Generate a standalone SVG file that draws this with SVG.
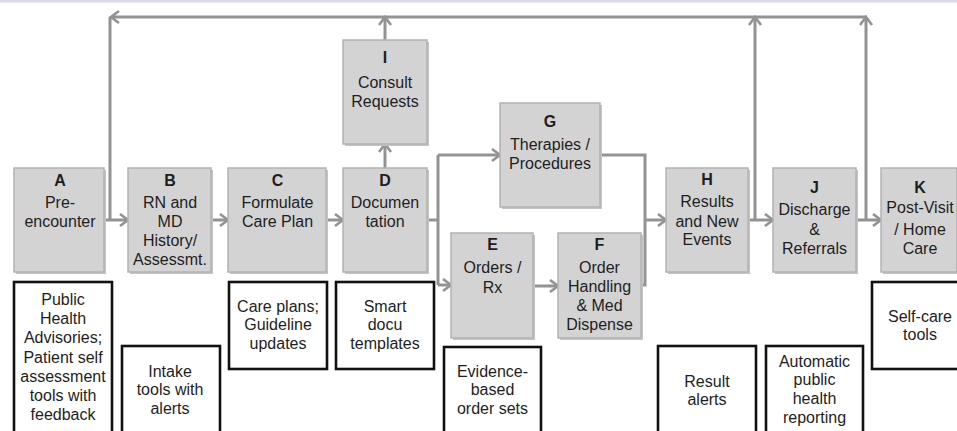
<svg xmlns="http://www.w3.org/2000/svg" width="957" height="431" viewBox="0 0 957 431">
<defs>
<marker id="ah" markerUnits="userSpaceOnUse" markerWidth="14" markerHeight="16" refX="10" refY="7" orient="auto">
<path d="M2,1 L10,7 L2,13" fill="none" stroke="#939393" stroke-width="2.6"/>
</marker>
</defs>
<style>
.bg{fill:#ffffff}
.band{fill:#dad8ec}
.node{fill:#d3d3d3;stroke:#b3b3b3;stroke-width:1.5}
.shadow{fill:#c4c4c4}
.ann{fill:#ffffff;stroke:#111111;stroke-width:2.6}
.c{fill:none;stroke:#939393;stroke-width:3}
.a{marker-end:url(#ah)}
text{font-family:"Liberation Sans",Arial,sans-serif;font-size:16px;fill:#1e1e1e;text-anchor:middle}
.l{font-weight:bold}
</style>
<rect class="bg" x="0" y="0" width="957" height="431"/>
<rect class="band" x="0" y="0" width="957" height="2.5"/>

<g id="connectors">
<path class="c a" d="M104,220 H128"/>
<path class="c a" d="M211,220 H228"/>
<path class="c a" d="M326,220 H343"/>
<path class="c" d="M427,220 H438"/>
<path class="c" d="M438,155 V285"/>
<path class="c a" d="M438,155 H500"/>
<path class="c a" d="M438,285 H451"/>
<path class="c a" d="M533,286 H558"/>
<path class="c" d="M600,155 H645 V285 H641"/>
<path class="c a" d="M645,220 H666"/>
<path class="c a" d="M748,220 H773"/>
<path class="c a" d="M856,220 H881"/>
<path class="c a" d="M755,220 V17"/>
<path class="c a" d="M866,220 V17"/>
<path class="c a" d="M866,17 H111"/>
<path class="c" d="M110,17 V220"/>
<path class="c a" d="M385,168 V144"/>
<path class="c a" d="M385,40 V17"/>
</g>

<g id="A">
<rect class="shadow" x="16" y="170" width="90" height="104"/>
<rect class="node" x="14" y="168" width="90" height="104"/>
<text class="l" x="60" y="186">A</text>
<text x="60" y="208">Pre-</text>
<text x="60" y="226.5">encounter</text>
</g>
<g id="B">
<rect class="shadow" x="130" y="170" width="83" height="104"/>
<rect class="node" x="128" y="168" width="83" height="104"/>
<text class="l" x="170" y="186">B</text>
<text x="170" y="207.5">RN and</text>
<text x="170" y="226.5">MD</text>
<text x="170" y="245.5">History/</text>
<text x="170" y="264.5">Assessmt.</text>
</g>
<g id="C">
<rect class="shadow" x="230" y="170" width="98" height="104"/>
<rect class="node" x="228" y="168" width="98" height="104"/>
<text class="l" x="277.5" y="186">C</text>
<text x="277.5" y="207.5">Formulate</text>
<text x="277.5" y="226.5">Care Plan</text>
</g>
<g id="D">
<rect class="shadow" x="345" y="170" width="84" height="104"/>
<rect class="node" x="343" y="168" width="84" height="104"/>
<text class="l" x="385" y="186">D</text>
<text x="385" y="207.5">Documen</text>
<text x="385" y="226.5">tation</text>
</g>
<g id="I">
<rect class="shadow" x="345" y="42" width="84" height="104"/>
<rect class="node" x="343" y="40" width="84" height="104"/>
<text class="l" x="385" y="63">I</text>
<text x="385" y="88">Consult</text>
<text x="385" y="106.5">Requests</text>
</g>
<g id="G">
<rect class="shadow" x="502" y="105" width="100" height="104"/>
<rect class="node" x="500" y="103" width="100" height="104"/>
<text class="l" x="550" y="126.5">G</text>
<text x="550" y="150">Therapies /</text>
<text x="550" y="168.5">Procedures</text>
</g>
<g id="E">
<rect class="shadow" x="453" y="235" width="82" height="105"/>
<rect class="node" x="451" y="233" width="82" height="105"/>
<text class="l" x="492.5" y="250">E</text>
<text x="492.5" y="273">Orders /</text>
<text x="492.5" y="292.5">Rx</text>
</g>
<g id="F">
<rect class="shadow" x="560" y="235" width="83" height="105"/>
<rect class="node" x="558" y="233" width="83" height="105"/>
<text class="l" x="599.5" y="250">F</text>
<text x="599.5" y="273">Order</text>
<text x="599.5" y="292">Handling</text>
<text x="599.5" y="311">&amp; Med</text>
<text x="599.5" y="330">Dispense</text>
</g>
<g id="H">
<rect class="shadow" x="668" y="170" width="82" height="104"/>
<rect class="node" x="666" y="168" width="82" height="104"/>
<text class="l" x="707" y="185">H</text>
<text x="707" y="207">Results</text>
<text x="707" y="226.5">and New</text>
<text x="707" y="245">Events</text>
</g>
<g id="J">
<rect class="shadow" x="775" y="170" width="83" height="104"/>
<rect class="node" x="773" y="168" width="83" height="104"/>
<text class="l" x="814.5" y="192.5">J</text>
<text x="814.5" y="214.5">Discharge</text>
<text x="814.5" y="235">&amp;</text>
<text x="814.5" y="254">Referrals</text>
</g>
<g id="K">
<rect class="shadow" x="883" y="170" width="76" height="104"/>
<rect class="node" x="881" y="168" width="76" height="104"/>
<text class="l" x="920" y="192.5">K</text>
<text x="920" y="213">Post-Visit</text>
<text x="920" y="235">/ Home</text>
<text x="920" y="254">Care</text>
</g>

<g id="noteA">
<rect class="ann" x="14" y="282" width="98" height="160"/>
<text x="63" y="305">Public</text>
<text x="63" y="324">Health</text>
<text x="63" y="343">Advisories;</text>
<text x="63" y="362.5">Patient self</text>
<text x="63" y="381.5">assessment</text>
<text x="63" y="401">tools with</text>
<text x="63" y="420">feedback</text>
</g>
<g id="noteB">
<rect class="ann" x="122" y="346" width="98" height="96"/>
<text x="170" y="376.5">Intake</text>
<text x="170" y="395">tools with</text>
<text x="170" y="413.5">alerts</text>
</g>
<g id="noteC">
<rect class="ann" x="229" y="282" width="98" height="87"/>
<text x="278" y="311.5">Care plans;</text>
<text x="278" y="330">Guideline</text>
<text x="278" y="348.5">updates</text>
</g>
<g id="noteD">
<rect class="ann" x="336" y="282" width="98" height="87"/>
<text x="385" y="311.5">Smart</text>
<text x="385" y="330">docu</text>
<text x="385" y="348.5">templates</text>
</g>
<g id="noteE">
<rect class="ann" x="444" y="347" width="97" height="95"/>
<text x="492.5" y="376.5">Evidence-</text>
<text x="492.5" y="395">based</text>
<text x="492.5" y="413.5">order sets</text>
</g>
<g id="noteH">
<rect class="ann" x="658" y="346" width="98" height="96"/>
<text x="707" y="386.5">Result</text>
<text x="707" y="405">alerts</text>
</g>
<g id="noteJ">
<rect class="ann" x="766" y="346" width="97" height="96"/>
<text x="814.5" y="366.5">Automatic</text>
<text x="814.5" y="385">public</text>
<text x="814.5" y="404">health</text>
<text x="814.5" y="422.5">reporting</text>
</g>
<g id="noteK">
<rect class="ann" x="872" y="282" width="95" height="87"/>
<text x="920" y="321.5">Self-care</text>
<text x="920" y="340">tools</text>
</g>
</svg>
